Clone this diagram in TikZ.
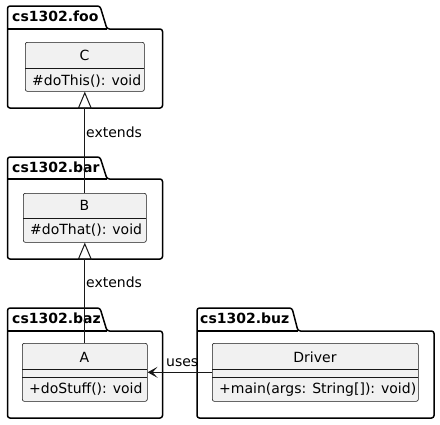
\documentclass[tikz,border=0pt]{standalone}
\usepackage{fontspec}
\setmainfont{DejaVu Sans}
\usetikzlibrary{arrows.meta}
\definecolor{clsfill}{HTML}{F1F1F1}
\definecolor{clsline}{HTML}{181818}
\begin{document}
\begin{tikzpicture}[x=1pt,y=-1pt,
  pkg/.style={draw=black,line width=1.5pt,rounded corners=2.5pt},
  cls/.style={draw=clsline,fill=clsfill,line width=0.6pt,rounded corners=2pt,inner sep=0pt,anchor=north west},
  divider/.style={draw=clsline,line width=0.6pt},
  txt/.style={font=\fontsize{14}{17}\selectfont,inner sep=0pt,text=black},
  cname/.style={txt,anchor=base},
  member/.style={txt,anchor=base west},
  ptitle/.style={font=\fontsize{14}{17}\selectfont\bfseries,inner sep=0pt,anchor=base west},
  conn/.style={draw=clsline,line width=1pt},
  ext/.style={conn,-{Triangle[open,length=17pt,width=14pt,line width=1pt]}},
  use/.style={conn,-{Stealth[length=10pt,width=11pt,inset=5pt]}}
]
\useasboundingbox (0,0) rectangle (440,424);
\fill[white] (0,0) rectangle (440,424);

% packages
\draw[pkg] (7.5,108) -- (7.5,6) -- (100,6) -- (107,29) -- (162.5,29) -- (162.5,108) -- cycle;
\draw[pkg] (7.5,29) -- (107,29);
\node[ptitle] (tfoo) at (12,21) {cs1302.foo};

\draw[pkg] (7.5,259) -- (7.5,157) -- (100,157) -- (107,179) -- (162.5,179) -- (162.5,259) -- cycle;
\draw[pkg] (7.5,179) -- (107,179);
\node[ptitle] (tbar) at (12,172) {cs1302.bar};

\draw[pkg] (7.5,418) -- (7.5,308) -- (100,308) -- (107,331) -- (162.5,331) -- (162.5,418) -- cycle;
\draw[pkg] (7.5,331) -- (107,331);
\node[ptitle] (tbaz) at (12,323) {cs1302.baz};

\draw[pkg] (197,418) -- (197,308) -- (292,308) -- (298,331) -- (434,331) -- (434,418) -- cycle;
\draw[pkg] (197,331) -- (298,331);
\node[ptitle] (tbuz) at (200,323) {cs1302.buz};

% classes
\node[cls,minimum width=119pt,minimum height=49pt] (C) at (25,42) {};
\draw[divider] (25,68) -- (144,68);
\node[cname] (Cn) at (84.5,60) {C};
\node[member] (Cm) at (32,85) {\#doThis(): void};

\node[cls,minimum width=123pt,minimum height=49pt] (B) at (23,193) {};
\draw[divider] (23,218) -- (146,218);
\node[cname] (Bn) at (84.5,210) {B};
\node[member] (Bm) at (30,234) {\#doThat(): void};

\node[cls,minimum width=125pt,minimum height=58pt] (A) at (22,343) {};
\draw[divider] (22,369) -- (147,369);
\draw[divider] (22,377) -- (147,377);
\node[cname] (An) at (84.5,362) {A};
\node[member] (Am) at (29,393) {+doStuff(): void};

\node[cls,minimum width=206pt,minimum height=58pt] (D) at (212,343) {};
\draw[divider] (212,369) -- (418,369);
\draw[divider] (212,377) -- (418,377);
\node[cname] (Dn) at (315,362) {Driver};
\node[member] (Dm) at (219,393) {+main(args: String[]): void)};

% connectors
\draw[ext] (B.north) -- (C.south);
\draw[ext] (A.north) -- (B.south);
\draw[use] (D.west) -- (A.east);

\node[member] (l1) at (86,137) {extends};
\node[member] (l2) at (86,287) {extends};
\node[member] (l3) at (166,366) {uses};
\end{tikzpicture}
\end{document}
